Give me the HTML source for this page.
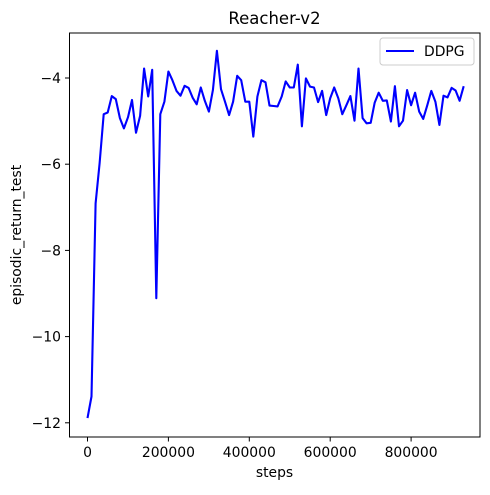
<!DOCTYPE html>
<html><head><meta charset="utf-8"><style>
body{margin:0;background:#fff;font-family:"Liberation Sans","DejaVu Sans",sans-serif}
svg text{font-family:"DejaVu Sans","Liberation Sans",sans-serif;fill:#000}
</style></head><body>
<svg id="chart" width="490" height="490" viewBox="0 0 490 490">
<rect width="490" height="490" fill="#fff"/>
<text x="274.5" y="24" font-size="16.5" text-anchor="middle">Reacher-v2</text>
<g id="xt"></g><g id="yt"></g>
<polyline id="line" fill="none" stroke="#0000ff" stroke-width="2.1" stroke-linejoin="round"/>
<rect x="69.5" y="33" width="410.5" height="404" fill="none" stroke="#000" stroke-width="1"/>
<text x="274.5" y="477" font-size="13.9" text-anchor="middle">steps</text>
<text transform="translate(21,235) rotate(-90)" font-size="13.9" text-anchor="middle">episodic_return_test</text>
<g>
<rect x="380" y="38" width="94" height="27" rx="3" fill="#fff" stroke="#ccc"/>
<line x1="386" y1="51" x2="414" y2="51" stroke="#0000ff" stroke-width="2.1"/>
<text x="424" y="56" font-size="13.9">DDPG</text>
</g>
</svg>
<script>
const values=[-11.89,-11.39,-6.91,-5.98,-4.84,-4.80,-4.42,-4.49,-4.93,-5.17,-4.91,-4.51,-5.27,-4.88,-3.78,-4.43,-3.81,-9.11,-4.84,-4.55,-3.85,-4.05,-4.30,-4.41,-4.18,-4.23,-4.46,-4.61,-4.22,-4.53,-4.78,-4.28,-3.37,-4.26,-4.55,-4.86,-4.55,-3.95,-4.05,-4.55,-4.55,-5.36,-4.43,-4.05,-4.10,-4.64,-4.65,-4.66,-4.43,-4.08,-4.22,-4.22,-3.69,-5.12,-4.01,-4.20,-4.22,-4.56,-4.30,-4.86,-4.47,-4.22,-4.47,-4.84,-4.63,-4.42,-4.99,-3.78,-4.93,-5.05,-5.04,-4.57,-4.34,-4.53,-4.52,-5.01,-4.19,-5.12,-4.99,-4.28,-4.63,-4.34,-4.78,-4.95,-4.63,-4.30,-4.55,-5.09,-4.41,-4.45,-4.23,-4.29,-4.53,-4.19];
const steps=values.map((v,i)=>i*10000);
const xTicks=[0,200000,400000,600000,800000];
const xTickLabels=["0","200000","400000","600000","800000"];
const yTicks=[-4,-6,-8,-10,-12];
const yTickLabels=["\u22124","\u22126","\u22128","\u221210","\u221212"];
const X=s=>87.5+s*(80.9/200000);
const Y=v=>78-(v+4)*43.1;
const NS="http://www.w3.org/2000/svg";
document.getElementById('line').setAttribute('points',values.map((v,i)=>X(steps[i]).toFixed(1)+','+Y(v).toFixed(1)).join(' '));
const xt=document.getElementById('xt'),yt=document.getElementById('yt');
xTicks.forEach((t,i)=>{
 const l=document.createElementNS(NS,'line');
 l.setAttribute('x1',X(t));l.setAttribute('x2',X(t));l.setAttribute('y1',437);l.setAttribute('y2',441.5);l.setAttribute('stroke','#000');
 
 
 xt.appendChild(l);
 const tx=document.createElementNS(NS,'text');
 tx.setAttribute('x',X(t));tx.setAttribute('y',457);tx.setAttribute('font-size','13.9');tx.setAttribute('text-anchor','middle');
 tx.textContent=xTickLabels[i];
 
 
 xt.appendChild(tx);
});
yTicks.forEach((t,i)=>{
 const l=document.createElementNS(NS,'line');
 l.setAttribute('x1',65);l.setAttribute('x2',69.5);l.setAttribute('y1',Y(t));l.setAttribute('y2',Y(t));l.setAttribute('stroke','#000');
 
 
 yt.appendChild(l);
 const tx=document.createElementNS(NS,'text');
 tx.setAttribute('x',61);tx.setAttribute('y',Y(t)+5);tx.setAttribute('font-size','13.9');tx.setAttribute('text-anchor','end');
 tx.textContent=yTickLabels[i];
 
 
 yt.appendChild(tx);
});
</script>
</body></html>
